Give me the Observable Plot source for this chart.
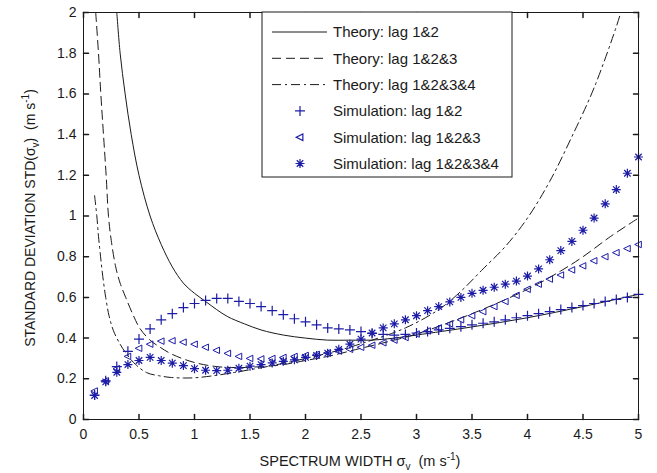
<!DOCTYPE html>
<html><head><meta charset="utf-8">
<script src="https://cdn.jsdelivr.net/npm/d3@7"></script>
<script src="https://cdn.jsdelivr.net/npm/@observablehq/plot@0.6"></script>
<style>
body{margin:0;background:#fff}
#chart{position:relative;width:657px;height:473px}
</style>
</head><body><div id="chart"></div>
<script>
// ---------- data ----------
const sigma = [0.1,0.2,0.3,0.4,0.5,0.6,0.7,0.8,0.9,1.0,1.1,1.2,1.3,1.4,1.5,1.6,1.7,1.8,1.9,2.0,
  2.1,2.2,2.3,2.4,2.5,2.6,2.7,2.8,2.9,3.0,3.1,3.2,3.3,3.4,3.5,3.6,3.7,3.8,3.9,4.0,
  4.1,4.2,4.3,4.4,4.5,4.6,4.7,4.8,4.9,5.0];
const sim12 = [0.12,0.19,0.26,0.335,0.395,0.445,0.49,0.52,0.55,0.57,0.585,0.595,0.595,0.58,0.57,0.555,0.535,0.515,0.495,0.48,
  0.465,0.45,0.445,0.44,0.432,0.423,0.418,0.415,0.418,0.425,0.432,0.44,0.448,0.456,0.465,0.473,0.48,0.49,0.50,0.51,
  0.52,0.53,0.54,0.55,0.56,0.57,0.58,0.59,0.60,0.615];
const sim123 = [0.14,0.19,0.25,0.31,0.35,0.37,0.385,0.387,0.38,0.37,0.355,0.34,0.325,0.31,0.30,0.298,0.30,0.305,0.31,0.315,
  0.32,0.328,0.336,0.345,0.355,0.365,0.377,0.39,0.403,0.42,0.435,0.45,0.47,0.49,0.51,0.53,0.555,0.58,0.61,0.64,
  0.665,0.69,0.71,0.735,0.755,0.78,0.80,0.82,0.84,0.86];
const sim1234 = [0.118,0.185,0.232,0.27,0.29,0.305,0.29,0.277,0.265,0.25,0.242,0.24,0.242,0.252,0.262,0.27,0.278,0.286,0.293,0.305,
  0.315,0.326,0.345,0.37,0.395,0.425,0.45,0.47,0.49,0.51,0.535,0.555,0.578,0.60,0.62,0.635,0.65,0.665,0.68,0.705,
  0.74,0.785,0.83,0.875,0.93,0.99,1.06,1.13,1.21,1.29];

const th12X = [0.3,0.33,0.375,0.43,0.5,0.6,0.7,0.8,0.9,1.0,1.1,1.2,1.3,1.45,1.6,1.8,2.0,2.2,2.4,2.6,2.8,3.0,3.5,4.0,4.5,5.0];
const th12Y = [2.0,1.8,1.6,1.4,1.2,1.0,0.86,0.75,0.67,0.62,0.58,0.54,0.505,0.47,0.44,0.415,0.40,0.39,0.39,0.39,0.40,0.415,0.455,0.50,0.555,0.615];
const th123X = [0.11,0.135,0.156,0.18,0.204,0.225,0.25,0.29,0.33,0.38,0.45,0.51,0.6,0.69,0.8,1.0,1.2,1.4,1.6,1.8,2.0,2.2,2.5,2.8,3.0,3.5,4.0,4.3,4.5,4.75,5.0];
const th123Y = [2.0,1.8,1.6,1.4,1.2,1.0,0.88,0.75,0.67,0.60,0.51,0.446,0.39,0.355,0.32,0.28,0.26,0.255,0.26,0.27,0.29,0.31,0.35,0.39,0.42,0.52,0.64,0.73,0.80,0.90,0.99];
const th1234X = [0.1,0.12,0.135,0.15,0.17,0.2,0.23,0.27,0.33,0.39,0.47,0.57,0.68,0.78,0.9,1.0,1.17,1.4,1.7,2.0,2.3,2.6,2.9,3.2,3.4,3.6,3.8,4.0,4.2,4.4,4.6,4.8,4.84];
const th1234Y = [1.1,1.0,0.9,0.82,0.72,0.6,0.51,0.436,0.37,0.32,0.27,0.23,0.215,0.207,0.204,0.205,0.215,0.235,0.265,0.30,0.34,0.39,0.45,0.54,0.63,0.74,0.85,0.99,1.17,1.39,1.63,1.93,2.0];

const xTicks = [0,0.5,1,1.5,2,2.5,3,3.5,4,4.5,5];
const yTicks = [0,0.2,0.4,0.6,0.8,1,1.2,1.4,1.6,1.8,2];
const legendLabels = ["Theory: lag 1&2","Theory: lag 1&2&3","Theory: lag 1&2&3&4",
  "Simulation: lag 1&2","Simulation: lag 1&2&3","Simulation: lag 1&2&3&4"];

// ---------- build tables ----------
const pts = (xs, ys) => xs.map((x, i) => ({x, y: ys[i]}));
const theory12 = pts(th12X, th12Y), theory123 = pts(th123X, th123Y), theory1234 = pts(th1234X, th1234Y);
const s12 = pts(sigma, sim12), s123 = pts(sigma, sim123), s1234 = pts(sigma, sim1234);

// ---------- styles ----------
const FONT = "'Liberation Sans', Arial, Helvetica, sans-serif";
const INK = "#1a1a1a";
const BLUE = "#1c1ca6";
const DASH = "9,5";
const DASHDOT = "9,4,2,4";

const sym = fn => ({draw(ctx, size) { const r = Math.sqrt(size / Math.PI); fn(ctx, r); }});
const plusSym = sym((c, r) => { c.moveTo(-r, 0); c.lineTo(r, 0); c.moveTo(0, -r); c.lineTo(0, r); });
const triSym = sym((c, r) => { c.moveTo(-r, 0); c.lineTo(r * 0.75, -r * 0.85); c.lineTo(r * 0.75, r * 0.85); c.closePath(); });
const starSym = sym((c, r) => { const d = r * 0.72; c.moveTo(-r, 0); c.lineTo(r, 0); c.moveTo(0, -r); c.lineTo(0, r);
  c.moveTo(-d, -d); c.lineTo(d, d); c.moveTo(-d, d); c.lineTo(d, -d); });
const tickShape = {draw(ctx, l) { ctx.moveTo(0, 0); ctx.lineTo(0, -l); }};
const TL = 5;

const chart = Plot.plot({
  width: 657, height: 473,
  marginLeft: 83, marginRight: 19, marginTop: 12, marginBottom: 54,
  style: {fontFamily: FONT, fontSize: "14px", color: INK, background: "white", overflow: "visible"},
  x: {domain: [0, 5]},
  y: {domain: [0, 2]},
  marks: [
    Plot.line(theory12, {x: "x", y: "y", stroke: INK, strokeWidth: 1, curve: "catmull-rom", clip: true}),
    Plot.line(theory123, {x: "x", y: "y", stroke: INK, strokeWidth: 1, strokeDasharray: DASH, curve: "catmull-rom", clip: true}),
    Plot.line(theory1234, {x: "x", y: "y", stroke: INK, strokeWidth: 1, strokeDasharray: DASHDOT, curve: "catmull-rom", clip: true}),
    Plot.dot(s12, {x: "x", y: "y", symbol: plusSym, r: 5, stroke: BLUE, strokeWidth: 1.2, fill: "none"}),
    Plot.dot(s123, {x: "x", y: "y", symbol: triSym, r: 3.8, stroke: BLUE, strokeWidth: 1, fill: "none"}),
    Plot.dot(s1234, {x: "x", y: "y", symbol: starSym, r: 4.5, stroke: BLUE, strokeWidth: 1.2, fill: "none"}),
    Plot.axisX(xTicks, {tickSize: 0, tickPadding: 10, tickFormat: d => String(d), label: null, fill: INK}),
    Plot.axisY(yTicks, {tickSize: 0, tickPadding: 7, tickFormat: d => String(d), label: null, fill: INK}),
    Plot.vector(xTicks, {x: d => d, frameAnchor: "bottom", length: TL, rotate: 0, anchor: "start", shape: tickShape, stroke: INK}),
    Plot.vector(xTicks, {x: d => d, frameAnchor: "top", length: TL, rotate: 180, anchor: "start", shape: tickShape, stroke: INK}),
    Plot.vector(yTicks, {y: d => d, frameAnchor: "left", length: TL, rotate: 90, anchor: "start", shape: tickShape, stroke: INK}),
    Plot.vector(yTicks, {y: d => d, frameAnchor: "right", length: TL, rotate: -90, anchor: "start", shape: tickShape, stroke: INK}),
    Plot.frame({stroke: INK, strokeWidth: 1})
  ]
});
document.getElementById("chart").appendChild(chart);

// ---------- axis labels & legend ----------
const svg = d3.select(chart);
const xl = svg.append("text").attr("x", 360).attr("y", 466).attr("text-anchor", "middle")
  .attr("font-family", FONT).attr("font-size", 14.5).attr("fill", INK);
xl.append("tspan").text("SPECTRUM WIDTH σ");
xl.append("tspan").attr("dy", 4).attr("font-size", 10).text("v");
xl.append("tspan").attr("dy", -4).text("  (m s");
xl.append("tspan").attr("dy", -6).attr("font-size", 10).text("-1");
xl.append("tspan").attr("dy", 6).text(")");

const yl = svg.append("text").attr("transform", "translate(35,218) rotate(-90)").attr("text-anchor", "middle")
  .attr("font-family", FONT).attr("font-size", 14).attr("fill", INK);
yl.append("tspan").text("STANDARD DEVIATION STD(σ");
yl.append("tspan").attr("dy", 4).attr("font-size", 10).text("v");
yl.append("tspan").attr("dy", -4).text(")  (m s");
yl.append("tspan").attr("dy", -6).attr("font-size", 10).text("-1");
yl.append("tspan").attr("dy", 6).text(")");

const lg = svg.append("g");
lg.append("rect").attr("x", 262).attr("y", 12).attr("width", 250).attr("height", 165)
  .attr("fill", "white").attr("stroke", INK).attr("stroke-width", 1);
const dashes = [null, DASH, DASHDOT];
const syms = [plusSym, triSym, starSym];
const symR = [5, 3.8, 4.5];
legendLabels.forEach((t, i) => {
  const cy = 32 + i * 26.3;
  if (i < 3) {
    lg.append("line").attr("x1", 272).attr("x2", 327).attr("y1", cy).attr("y2", cy)
      .attr("stroke", INK).attr("stroke-width", 1).attr("stroke-dasharray", dashes[i]);
  } else {
    const r = symR[i - 3];
    lg.append("path").attr("transform", `translate(300,${cy})`)
      .attr("d", d3.symbol(syms[i - 3], Math.PI * r * r)())
      .attr("fill", "none").attr("stroke", BLUE).attr("stroke-width", 1.2);
  }
  lg.append("text").attr("x", 333).attr("y", cy).attr("dy", "0.36em").attr("text-anchor", "start")
    .attr("font-family", FONT).attr("font-size", 15).attr("fill", INK).text(t);
});
</script>
</body></html>
